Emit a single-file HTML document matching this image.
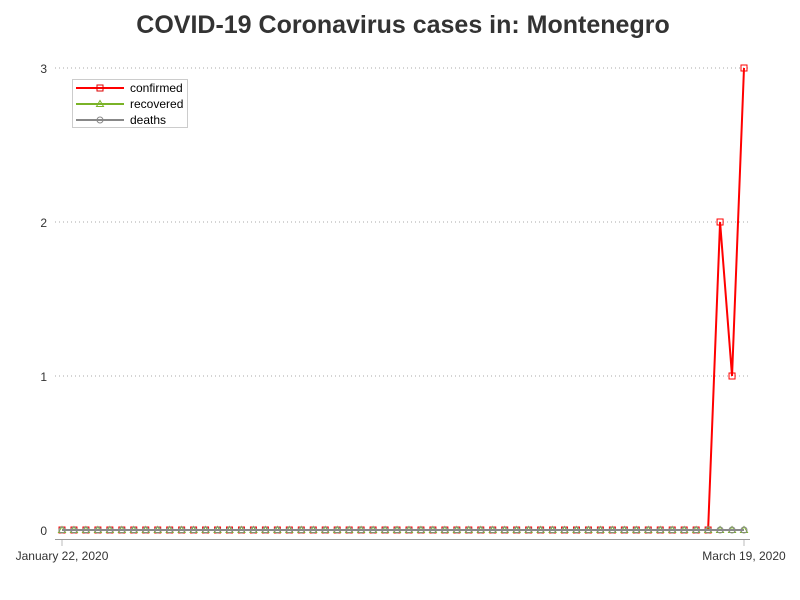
<!DOCTYPE html>
<html><head><meta charset="utf-8"><style>
body{margin:0;background:#fff;}
svg{display:block;font-family:"Liberation Sans",sans-serif;}
</style></head><body>
<svg id="chart" width="800" height="600">
<text x="403" y="33" text-anchor="middle" font-size="25" font-weight="bold" fill="#333">COVID-19 Coronavirus cases in: Montenegro</text>
<g id="grid"></g>
<g id="axes"></g>
<g id="series"></g>
<g>
<rect x="72.5" y="79.5" width="115" height="48" fill="#fff" stroke="#ccc"/>
<g><line x1="76" y1="88" x2="124" y2="88" stroke="#f00" stroke-width="2"/><rect x="97" y="85" width="6" height="6" fill="none" stroke="#d00"/><text x="130" y="92" font-size="12" fill="#000">confirmed</text></g>
<g><line x1="76" y1="104" x2="124" y2="104" stroke="#7ab327" stroke-width="2"/><path d="M100 100.5 L103.5 106.5 L96.5 106.5Z" fill="none" stroke="#7ab327"/><text x="130" y="108" font-size="12" fill="#000">recovered</text></g>
<g><line x1="76" y1="120" x2="124" y2="120" stroke="#888" stroke-width="2"/><circle cx="100" cy="120" r="3" fill="none" stroke="#888"/><text x="130" y="124" font-size="12" fill="#000">deaths</text></g>
</g>
</svg>
<script>
const startLabel = "January 22, 2020", endLabel = "March 19, 2020";
const confirmed = [0,0,0,0,0,0,0,0,0,0,0,0,0,0,0,0,0,0,0,0,0,0,0,0,0,0,0,0,0,0,0,0,0,0,0,0,0,0,0,0,0,0,0,0,0,0,0,0,0,0,0,0,0,0,0,2,1,3];
const recovered = [0,0,0,0,0,0,0,0,0,0,0,0,0,0,0,0,0,0,0,0,0,0,0,0,0,0,0,0,0,0,0,0,0,0,0,0,0,0,0,0,0,0,0,0,0,0,0,0,0,0,0,0,0,0,0,0,0,0];
const deaths = [0,0,0,0,0,0,0,0,0,0,0,0,0,0,0,0,0,0,0,0,0,0,0,0,0,0,0,0,0,0,0,0,0,0,0,0,0,0,0,0,0,0,0,0,0,0,0,0,0,0,0,0,0,0,0,0,0,0];
const yTicks = [0,1,2,3];
const NS="http://www.w3.org/2000/svg";
const n = confirmed.length;
const x = i => 62 + i*(744-62)/(n-1);
const y = v => 530 - v*154;
function mk(tag, attrs, parent){const e=document.createElementNS(NS,tag);for(const k in attrs)e.setAttribute(k,attrs[k]);parent.appendChild(e);return e;}
const grid=document.getElementById('grid'), axes=document.getElementById('axes'), ser=document.getElementById('series');
yTicks.forEach(t=>{
  if(t>0){const l=mk('line',{x1:55,x2:750,y1:y(t),y2:y(t),stroke:'#aaa','stroke-dasharray':'1,3'},grid);
  
  }
  const tx=mk('text',{x:47,y:y(t)+5,'text-anchor':'end','font-size':12,fill:'#333'},axes);tx.textContent=t;
  
  
});
const ax=mk('line',{x1:55,x2:750,y1:539.5,y2:539.5,stroke:'#999'},axes);


[[0,startLabel],[n-1,endLabel]].forEach(([i,lab])=>{
  mk('line',{x1:x(i),x2:x(i),y1:540,y2:546,stroke:'#bbb'},axes);
  const t=mk('text',{x:x(i),y:560,'text-anchor':'middle','font-size':12,fill:'#333'},axes);t.textContent=lab;
  
  
});
function series(data,color,shape,name){
  const g=mk('g',{},ser);
  
  
  mk('polyline',{points:data.map((v,i)=>x(i)+','+y(v)).join(' '),fill:'none',stroke:color,'stroke-width':2},g);
  data.forEach((v,i)=>{
    const cx=x(i),cy=y(v);let m;
    if(shape==='sq') m=mk('rect',{x:cx-3,y:cy-3,width:6,height:6,fill:'none',stroke:color},g);
    else if(shape==='tri') m=mk('path',{d:`M${cx} ${cy-3.5}L${cx+3.5} ${cy+2.5}L${cx-3.5} ${cy+2.5}Z`,fill:'none',stroke:color},g);
    else m=mk('circle',{cx:cx,cy:cy,r:3,fill:'none',stroke:color},g);
    
    
  });
}
series(confirmed,'#f00','sq','confirmed');
series(recovered,'#7ab327','tri','recovered');
series(deaths,'#888','circ','deaths');
</script>
</body></html>
